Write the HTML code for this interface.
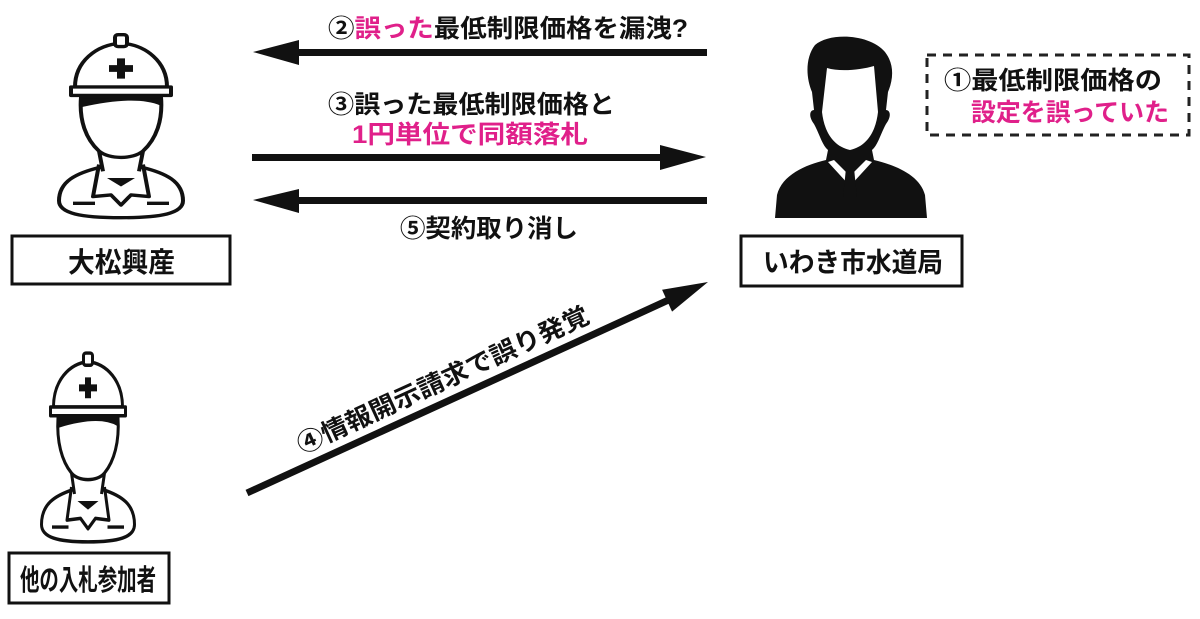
<!DOCTYPE html>
<html><head><meta charset="utf-8"><style>
html,body{margin:0;padding:0;background:#fff;}
body{width:1200px;height:614px;overflow:hidden;}
text{font-family:"Liberation Sans","Noto Sans CJK JP",sans-serif;font-weight:bold;}
</style></head><body>
<svg width="1200" height="614" viewBox="0 0 1200 614" xmlns="http://www.w3.org/2000/svg">
<defs>
<g id="worker" fill="none" stroke="#111" stroke-width="4" stroke-linejoin="round">
  <path d="M-46,0 C-46,-30 -25,-50 0,-52 C25,-50 46,-30 46,0 Z" fill="#fff"/>
  <rect x="-6" y="-62" width="12" height="14" rx="3" fill="#fff"/>
  <rect x="-50" y="0" width="100" height="10" fill="#fff"/>
  <path d="M-4,-34 h8 v8 h8 v8 h-8 v8 h-8 v-8 h-8 v-8 h8 z" fill="#111" stroke="none"/>
  <path d="M-40,12 C-42,40 -35,62 -22,76 L-18,100 M40,12 C42,40 35,62 22,76 L18,100 M-22,76 C-12,86 12,86 22,76"/>
  <path d="M-40,12 L40,12 L40,20 C20,10 -10,14 -40,22 Z" fill="#111"/>
  <path d="M-20,95 C-45,102 -62,112 -62,135 C-62,150 -40,155 0,155 C40,155 62,150 62,135 C62,112 45,102 20,95"/>
  <path d="M-22,92 L-28,130 L-10,128 L0,140 L10,128 L28,130 L22,92"/>
  <path d="M-14,108 L0,118 L14,108 Z" fill="#111" stroke="none"/>
  <path d="M-48,138 h22 M26,138 h22"/>
</g>
</defs>

<g transform="translate(121,87) scale(1,0.843)"><use href="#worker"/></g>
<rect x="12" y="236" width="218" height="48" fill="#fff" stroke="#111" stroke-width="3"/>
<text x="68" y="272" font-size="28" textLength="107" lengthAdjust="spacingAndGlyphs" fill="#111">大松興産</text>

<g transform="translate(88,407) scale(0.75,0.87)"><use href="#worker"/></g>
<rect x="9" y="553" width="160" height="50" fill="#fff" stroke="#111" stroke-width="3"/>
<text x="20" y="590" font-size="29" textLength="136" lengthAdjust="spacingAndGlyphs" fill="#111">他の入札参加者</text>

<g fill="#111">
  <path d="M815,45 C830,32 870,34 885,52 C895,65 893,80 888,92 L886,110 C890,110 892,116 886,124 C880,135 878,145 872,150 L874,160 C895,165 920,175 925,195 L927,218 L775,218 L777,195 C782,175 805,165 826,160 L828,150 C822,145 820,135 814,124 C808,116 810,110 814,110 L812,92 C806,78 805,58 815,45 Z"/>
  <path d="M827,68 C840,72 860,70 874,66 L878,112 C876,130 868,146 850,150 C832,146 824,130 822,112 Z" fill="#fff"/>
  <path d="M828,162 L850,186 L872,162 L866,160 L850,176 L834,160 Z" fill="#fff"/>
  <path d="M846,168 h8 l3,30 l-7,8 l-7,-8 z"/>
</g>
<rect x="741" y="236" width="221" height="50" fill="#fff" stroke="#111" stroke-width="3"/>
<text x="763" y="272" font-size="27" textLength="180" lengthAdjust="spacingAndGlyphs" fill="#111">いわき市水道局</text>

<rect x="927" y="55" width="262" height="80" fill="none" stroke="#222" stroke-width="3" stroke-dasharray="9,7"/>
<text x="944" y="89" font-size="25" textLength="218" lengthAdjust="spacingAndGlyphs" fill="#111">①最低制限価格の</text>
<text x="971" y="121" font-size="25" textLength="198" lengthAdjust="spacingAndGlyphs" fill="#e0208a">設定を誤っていた</text>

<g fill="#111">
  <rect x="290" y="49" width="417" height="7"/>
  <polygon points="253,52 299,40 299,65"/>
  <rect x="252" y="154" width="415" height="7"/>
  <polygon points="706,157 660,145 660,170"/>
  <rect x="290" y="197" width="417" height="7"/>
  <polygon points="253,200 299,189 299,213"/>
  <g transform="translate(247,493) rotate(-24.6)">
    <rect x="0" y="-3.5" width="470" height="7"/>
    <polygon points="507,0 462,-12 462,12"/>
  </g>
</g>

<text x="328" y="37" font-size="25" textLength="360" lengthAdjust="spacingAndGlyphs" fill="#111">②<tspan fill="#e0208a">誤った</tspan>最低制限価格を漏洩?</text>
<text x="328" y="113" font-size="25" textLength="287" lengthAdjust="spacingAndGlyphs" fill="#111">③誤った最低制限価格と</text>
<text x="352" y="143" font-size="25" textLength="236" lengthAdjust="spacingAndGlyphs" fill="#e0208a">1円単位で同額落札</text>
<text x="400" y="237" font-size="25" textLength="178" lengthAdjust="spacingAndGlyphs" fill="#111">⑤契約取り消し</text>
<text transform="translate(302,454) rotate(-24.6)" font-size="25" textLength="318" lengthAdjust="spacingAndGlyphs" fill="#111">④情報開示請求で誤り発覚</text>
</svg>
</body></html>
